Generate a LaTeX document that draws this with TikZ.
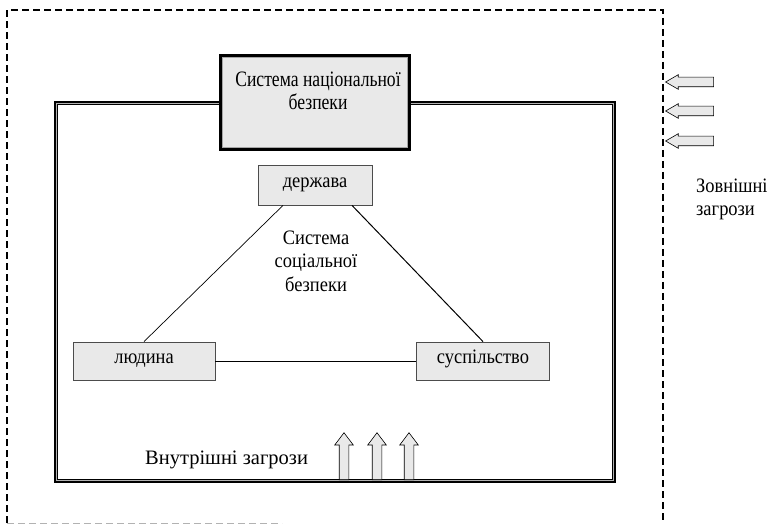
\documentclass[tikz,border=0pt]{standalone}
\usepackage{fontspec}
\setmainfont{Liberation Serif}[FakeStretch=0.9]
\newfontfamily\condfont[FakeStretch=0.8]{Liberation Serif}
\newfontfamily\widefont{Liberation Serif}
\usetikzlibrary{shapes.arrows}
\begin{document}
\begin{tikzpicture}[x=1pt,y=-1pt,
  txt/.style={font=\fontsize{20.5}{24}\selectfont, inner sep=0pt},
  linetxt/.style={txt, anchor=base},
  rolebox/.style={draw=gray!60!black, line width=0.8pt, fill=gray!17, txt, text height=1.2ex, text depth=0pt},
  frameout/.style={line width=2.4pt, line join=miter},
  framemid/.style={line width=0.8pt, gray!60},
  framein/.style={line width=0.9pt},
  upbolt/.style={single arrow, draw, fill=gray!17, line width=0.6pt, shape border rotate=90,
     minimum height=47pt, minimum width=18pt, inner sep=4.5pt, single arrow head extend=4.5pt,
     single arrow tip angle=74, anchor=tail},
  leftbolt/.style={single arrow, draw, fill=gray!17, line width=0.6pt, shape border rotate=180,
     minimum height=48pt, minimum width=14pt, inner sep=4.5pt, single arrow head extend=2.5pt,
     single arrow tip angle=60, anchor=tip},
  dashline/.style={line width=1.5pt, dash pattern=on 7pt off 4pt}]
\useasboundingbox (0,0) rectangle (778,526);
% outer dashed frame
\coordinate (dTL) at (7,10);
\coordinate (dTR) at (663,10);
\coordinate (dBL) at (7,523);
\coordinate (dBR) at (663,523);
\coordinate (dBM) at (282,523);
\draw[dashline] (dBL) -- (dTL) -- (dTR) -- (dBR);
\draw[gray!60, line width=1pt, dash pattern=on 7pt off 4pt] (dBL) -- (dBM);
% inner triple-line frame
\coordinate (fL) at (220,102);
\coordinate (fR) at (410,102);
\draw[frameout] (fL) -- (55,102) -- (55,482) -- (615,482) -- (615,102) -- (fR);
\draw[framemid] (220,103.8) -- (56.8,103.8) -- (56.8,480.2) -- (613.2,480.2) -- (613.2,103.8) -- (410,103.8);
\draw[framein] (220,104.8) -- (57.8,104.8) -- (57.8,479.2) -- (612.2,479.2) -- (612.2,104.8) -- (410,104.8);
% national security box
\node[draw, line width=4pt, fill=gray!17, minimum width=188pt, minimum height=93pt] (nat) at (315,102.5) {};
\draw[gray!70, line width=0.7pt] ([xshift=3.5pt,yshift=-3.5pt]nat.north west) rectangle ([xshift=-3.5pt,yshift=3.5pt]nat.south east);
\node[linetxt, font=\condfont\fontsize{22}{24}\selectfont] (nat1) at (318,87) {Система національної};
\node[linetxt, font=\condfont\fontsize{22}{24}\selectfont] (nat2) at (318,110) {безпеки};
% roles
\node[rolebox, minimum width=114pt, minimum height=40pt] (st) at (315,185) {держава};
\node[rolebox, minimum width=142pt, minimum height=38pt] (hu) at (144,361) {людина};
\node[rolebox, minimum width=133pt, minimum height=38pt] (so) at (483,361) {суспільство};
\draw[line width=0.7pt] ([xshift=-32pt]st.south) -- (hu.north);
\draw[line width=1pt] ([xshift=37pt]st.south) -- (so.north);
\draw[line width=1pt] (hu.east) -- (so.east -| so.west);
\node[linetxt] (soc1) at (316,245) {Система};
\node[linetxt] (soc2) at (316,268) {соціальної};
\node[linetxt] (soc3) at (316,291) {безпеки};
% internal threats
\node[linetxt, anchor=base west, font=\widefont\fontsize{20.5}{24}\selectfont] (inn) at (145,464) {Внутрішні загрози};
\node[upbolt] (u1) at (344,480) {};
\node[upbolt] (u2) at (377,480) {};
\node[upbolt] (u3) at (409,480) {};
% external threats
\node[leftbolt] (e1) at (665,82) {};
\node[leftbolt] (e2) at (665,111) {};
\node[leftbolt] (e3) at (665,141) {};
\node[linetxt, anchor=base west] (ext1) at (696,193) {Зовнішні};
\node[linetxt, anchor=base west] (ext2) at (696,216) {загрози};
\end{tikzpicture}
\end{document}
